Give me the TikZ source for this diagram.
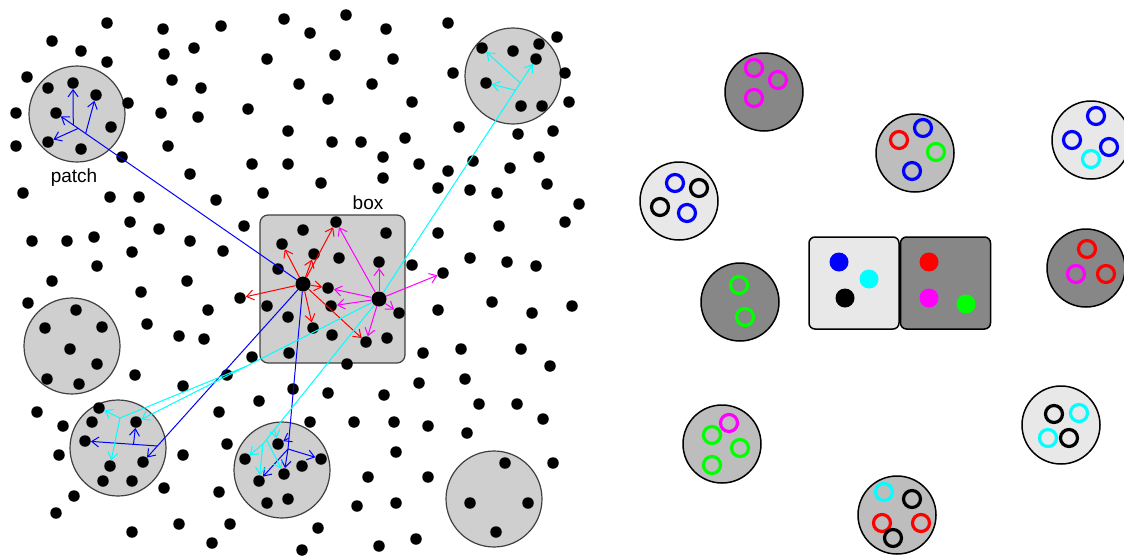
\documentclass[tikz,border=0pt]{standalone}
\usepackage{fontspec}
\setmainfont{Liberation Sans}
\usetikzlibrary{arrows.meta,calc}
\definecolor{pfill}{HTML}{CFCFCF}
\definecolor{dkg}{HTML}{878787}
\definecolor{mdg}{HTML}{BDBDBD}
\definecolor{ltg}{HTML}{E8E8E8}
\definecolor{cyn}{RGB}{0,255,255}
\definecolor{mgt}{RGB}{255,0,255}
\definecolor{grn}{RGB}{0,255,0}
\definecolor{rd}{RGB}{255,0,0}
\definecolor{bl}{RGB}{0,0,255}
\begin{document}
\begin{tikzpicture}[x=1pt,y=-1pt,
  dot/.style={circle,fill=black,inner sep=0pt,minimum size=11.5pt},
  bigdot/.style={circle,fill=black,inner sep=0pt,minimum size=15pt},
  patch/.style={circle,draw=black!75,line width=1.2pt,fill=pfill,inner sep=0pt,minimum size=96pt},
  boxnode/.style={draw=black!75,line width=1.2pt,fill=pfill,rounded corners=8pt,inner sep=0pt},
  lbl/.style={font=\fontsize{19}{22}\selectfont,inner sep=0pt},
  arr/.style={-{Straight Barb[length=7pt,width=10pt]},line width=1pt},
  ln/.style={line width=1pt},
  rc/.style={circle,draw=black,line width=1.5pt,inner sep=0pt,minimum size=78pt},
  ring/.style={circle,line width=3.2pt,inner sep=0pt,minimum size=17pt},
  cdot/.style={circle,inner sep=0pt,minimum size=19pt},
  rbox/.style={draw=black,line width=1.5pt,rounded corners=6pt,inner sep=0pt,minimum width=90pt,minimum height=92pt}
]
\useasboundingbox (0,0) rectangle (1124,555);
% ---------- left panel: patches and box ----------
\node[patch] (pul) at (77,114) {};
\node[patch] (pur) at (513,76) {};
\node[patch] (pl)  at (72,346) {};
\node[patch] (pll) at (118,448) {};
\node[patch] (plm) at (282,470) {};
\node[patch] (plr) at (494,499) {};
\node[boxnode,minimum width=145pt,minimum height=148pt] (bx) at (332.5,289) {};
\node[lbl,anchor=base] (tp) at (74,182) {patch};
\node[lbl,anchor=base] (tb) at (368,209) {box};
% ---------- general dots ----------
\foreach \x/\y [count=\i] in {107/23, 52/41, 81/51, 107/62, 163/29, 164/54, 194/48, 27/77, 48/88, 128/103, 172/80, 201/88, 16/113, 161/113, 198/117, 111/127, 16/146, 81/149, 122/157, 168/146, 190/174,
221/26, 284/19, 346/15, 310/33, 386/29, 267/59, 335/55, 393/59, 299/84, 372/84, 328/99, 248/109, 288/131, 332/142, 361/142, 383/157, 252/164, 288/164, 321/183, 383/178,
448/23, 453/73, 412/102, 459/127, 405/138, 419/164, 448/171, 473/161, 510/168, 539/157, 518/134, 553/131, 569/102, 565/73, 557/37, 513/51, 539/44, 521/106, 542/106, 547/184, 438/188,
23/193, 110/197, 139/197, 130/222, 159/229, 190/241, 32/241, 67/241, 94/237, 132/252, 97/266, 52/281, 187/281, 141/292, 28/303, 147/324, 179/336,
76/310, 45/328, 102/327, 70/349, 97/364, 47/379, 79/384,
216/200, 263/193, 244/226, 223/251, 208/310, 204/339, 252/357,
303/230, 386/233, 339/258, 278/269, 267/306, 288/317, 332/335, 387/338, 289/353, 347/364,
470/190, 497/193, 579/204, 565/222, 499/226, 438/233, 412/265, 470/258, 507/262, 536/266, 438/310, 492/302, 532/313, 572/306, 423/353, 461/349, 521/349, 550/366,
135/375, 183/386, 37/412, 63/426, 59/455, 183/455, 164/488, 74/496, 56/513, 132/532, 179/524,
92/422, 103/481, 132/481,
227/375, 293/389, 328/393, 384/395, 259/401, 219/412, 310/422, 354/422, 394/422, 227/444, 396/452, 368/477, 219/492, 357/506, 396/503, 230/524, 318/528, 212/543, 302/550, 379/546,
302/466, 267/503, 288/499,
419/383, 465/379, 479/404, 517/404, 428/426, 467/433, 543/419, 553/463, 428/477, 416/539,
505/463, 470/503, 528/503, 496/532}
  \node[dot] (g\i) at (\x,\y) {};
% ---------- named dots ----------
\node[dot] (ula) at (73,83) {};
\node[dot] (ulb) at (96,95) {};
\node[dot] (ulc) at (56,113) {};
\node[dot] (uld) at (48,142) {};
\node[dot] (ura) at (482,48) {};
\node[dot] (urb) at (486,83) {};
\node[dot] (urc) at (536,59) {};
\node[bigdot] (B) at (303,284) {};
\node[bigdot] (M) at (379,299) {};
\node[dot] (bxa) at (282,244) {};
\node[dot] (bxb) at (336,222) {};
\node[dot] (bxc) at (314,254) {};
\node[dot] (bxd) at (328,288) {};
\node[dot] (bxe) at (313,328) {};
\node[dot] (bxf) at (366,342) {};
\node[dot] (bxg) at (379,262) {};
\node[dot] (bxh) at (331,306) {};
\node[dot] (bxi) at (399,313) {};
\node[dot] (ra) at (240,298) {};
\node[dot] (mg) at (443,273) {};
\node[dot] (lla) at (99,408) {};
\node[dot] (llb) at (136,422) {};
\node[dot] (llc) at (85,441) {};
\node[dot] (lld) at (110,466) {};
\node[dot] (lle) at (143,462) {};
\node[dot] (lma) at (278,444) {};
\node[dot] (lmb) at (245,459) {};
\node[dot] (lmc) at (321,459) {};
\node[dot] (lmd) at (284,474) {};
\node[dot] (lme) at (259,481) {};
% ---------- blue ----------
\draw[arr,bl] (B) -- (ulc);
\coordinate (b1) at ($(B)!0.93!(ulc)$);
\coordinate (b2) at ($(B)!0.88!(ulc)$);
\coordinate (b3) at ($(B)!0.91!(ulc)$);
\draw[arr,bl] (b1) -- (ula);
\draw[arr,bl] (b2) -- (ulb);
\draw[arr,bl] (b3) -- (uld);
\draw[arr,bl] (B) -- (lle);
\coordinate (b4) at ($(B)!0.91!(lle)$);
\draw[arr,bl] (b4) -- (llc);
\coordinate (b5) at ($(b4)!0.33!(llc)$);
\draw[arr,bl] (b5) -- (llb);
\coordinate (b6) at (289,438);
\coordinate (b7) at (288,449);
\draw[ln,bl] (B) -- (b6);
\draw[arr,bl] (b6) -- (lma);
\draw[ln,bl] (b6) -- (b7);
\draw[arr,bl] (b7) -- (lmc);
\draw[arr,bl] (b7) -- (lmd);
\draw[arr,bl] (b7) -- (lme);
% ---------- red ----------
\foreach \t in {bxa,bxb,bxc,ra,bxd,bxe,bxf}
  \draw[arr,rd] (B) -- (\t);
% ---------- magenta ----------
\foreach \t in {bxb,bxg,bxd,bxh,bxf,bxi,mg}
  \draw[arr,mgt] (M) -- (\t);
% ---------- cyan ----------
\draw[arr,cyn] (M) -- (urc);
\coordinate (c1) at ($(M)!0.9!(urc)$);
\coordinate (c2) at ($(M)!0.87!(urc)$);
\draw[arr,cyn] (c1) -- (ura);
\draw[arr,cyn] (c2) -- (urb);
\draw[arr,cyn] (M) -- (llb);
\coordinate (c3) at (120,418);
\coordinate (c4) at ($(M)!0.55!(llb)$);
\draw[ln,cyn] (c4) -- (c3);
\draw[arr,cyn] (c3) -- (lla);
\draw[arr,cyn] (c3) -- (lld);
\coordinate (c5) at (263,444);
\draw[ln,cyn] (M) -- (c5);
\draw[arr,cyn] (c5) -- (lmb);
\draw[arr,cyn] (c5) -- (lme);
\coordinate (c6) at ($(M)!0.97!(c5)$);
\draw[arr,cyn] (c6) -- (lmd);
\coordinate (c7) at ($(M)!0.9!(c5)$);
\draw[arr,cyn] (c7) -- (lma);
% ---------- right panel ----------
\node[rc,fill=dkg] (r1) at (764,92) {};
\node[ring,draw=mgt] (r1a) at (754,68) {};
\node[ring,draw=mgt] (r1b) at (778,80) {};
\node[ring,draw=mgt] (r1c) at (754,98) {};
\node[rc,fill=mdg] (r2) at (915,153) {};
\node[ring,draw=rd] (r2a) at (899,140) {};
\node[ring,draw=bl] (r2b) at (923,128) {};
\node[ring,draw=grn] (r2c) at (936,152) {};
\node[ring,draw=bl] (r2d) at (912,171) {};
\node[rc,fill=ltg] (r3) at (1091,140) {};
\node[ring,draw=bl] (r3a) at (1096,116) {};
\node[ring,draw=bl] (r3b) at (1072,140) {};
\node[ring,draw=bl] (r3c) at (1109,147) {};
\node[ring,draw=cyn] (r3d) at (1091,159) {};
\node[rc,fill=ltg] (r4) at (679,201) {};
\node[ring,draw=bl] (r4a) at (675,183) {};
\node[ring,draw=black] (r4b) at (699,188) {};
\node[ring,draw=black] (r4c) at (660,207) {};
\node[ring,draw=bl] (r4d) at (687,213) {};
\node[rc,fill=dkg] (r5) at (1086,268) {};
\node[ring,draw=rd] (r5a) at (1087,249) {};
\node[ring,draw=mgt] (r5b) at (1076,274) {};
\node[ring,draw=rd] (r5c) at (1106,274) {};
\node[rc,fill=dkg] (r6) at (740,302) {};
\node[ring,draw=grn] (r6a) at (739,285) {};
\node[ring,draw=grn] (r6b) at (745,317) {};
\node[rc,fill=mdg] (r7) at (722,444) {};
\node[ring,draw=grn] (r7b) at (712,435) {};
\node[ring,draw=grn] (r7c) at (740,448) {};
\node[ring,draw=grn] (r7d) at (712,465) {};
\node[ring,draw=mgt] (r7a) at (729,423) {};
\node[rc,fill=ltg] (r8) at (1061,425) {};
\node[ring,draw=black] (r8a) at (1054,414) {};
\node[ring,draw=cyn] (r8b) at (1079,413) {};
\node[ring,draw=cyn] (r8c) at (1048,438) {};
\node[ring,draw=black] (r8d) at (1069,438) {};
\node[rc,fill=mdg] (r9) at (897,515) {};
\node[ring,draw=cyn] (r9a) at (884,492) {};
\node[ring,draw=black] (r9b) at (912,499) {};
\node[ring,draw=rd] (r9c) at (882,523) {};
\node[ring,draw=rd] (r9d) at (921,523) {};
\node[ring,draw=black] (r9e) at (893,538) {};
% boxes
\node[rbox,fill=ltg] (rbl) at (854,283) {};
\node[rbox,fill=dkg] (rbr) at (945.5,283) {};
\node[cdot,fill=bl] (rda) at (839,262) {};
\node[cdot,fill=cyn] (rdb) at (869,279) {};
\node[cdot,fill=black] (rdc) at (845,298) {};
\node[cdot,fill=rd] (rdd) at (929,262) {};
\node[cdot,fill=mgt] (rde) at (929,298) {};
\node[cdot,fill=grn] (rdf) at (966,304) {};
\end{tikzpicture}
\end{document}
